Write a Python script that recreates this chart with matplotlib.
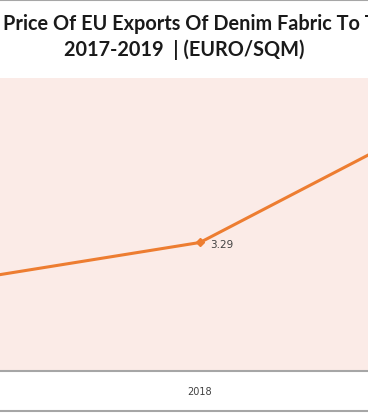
import matplotlib
matplotlib.use("Agg")
import matplotlib.pyplot as plt
from matplotlib.lines import Line2D

# data
years = ['2017', '2018', '2019']
price = [2.22, 3.29, 6.75]
labelled = [False, True, False]

title_1 = 'Price Of EU Exports Of Denim Fabric To Turkey'
title_2 = '2017-2019  | (EURO/SQM)'

W, H = 368, 414
fig = plt.figure(figsize=(W / 100, H / 100), dpi=100)
fig.patch.set_facecolor('white')

# the plot area is wider than the picture (chart is cropped at both sides)
D = 260.0                      # pixels per category
left_px = 200 - 1.5 * D
ax = fig.add_axes([left_px / W, (H - 372) / H, 3 * D / W, (372 - 79) / H])
ax.set_facecolor('#FBEBE7')

x = list(range(len(years)))
ax.plot(x, price, color='#ED7D31', lw=2.2, marker='D', ms=4.5,
        markeredgecolor='#ED7D31', solid_capstyle='round')
for xi, v, lab in zip(x, price, labelled):
    if lab:
        ax.annotate('%.2f' % v, (xi, v), xytext=(7, -1), textcoords='offset points',
                    ha='left', va='center', fontsize=7.5, color='#404040')

ax.set_xlim(-0.5, 2.5)
ax.set_ylim(0, 7.5)
ax.set_xticks(x)
ax.set_xticklabels(years, fontsize=7, color='#404040')
ax.tick_params(axis='x', length=0, pad=11)
ax.set_yticks([])
for s in ['top', 'left', 'right']:
    ax.spines[s].set_visible(False)
ax.spines['bottom'].set_color('#A6A6A6')
ax.spines['bottom'].set_linewidth(1.5)

tkw = dict(fontsize=14.3, fontweight='bold', color='#1a1a1a', family='Lato')
fig.text(3 / W, 1 - 24 / H, title_1, ha='left', va='center', **tkw)
fig.text(0.5, 1 - 50 / H, title_2, ha='center', va='center', **tkw)

# chart border (only top and bottom visible)
for ypx in [1, 412]:
    fig.add_artist(Line2D([0, 1], [1 - ypx / H] * 2, transform=fig.transFigure,
                          color='#A6A6A6', lw=1.5))

fig.savefig('out.png', dpi=100)
